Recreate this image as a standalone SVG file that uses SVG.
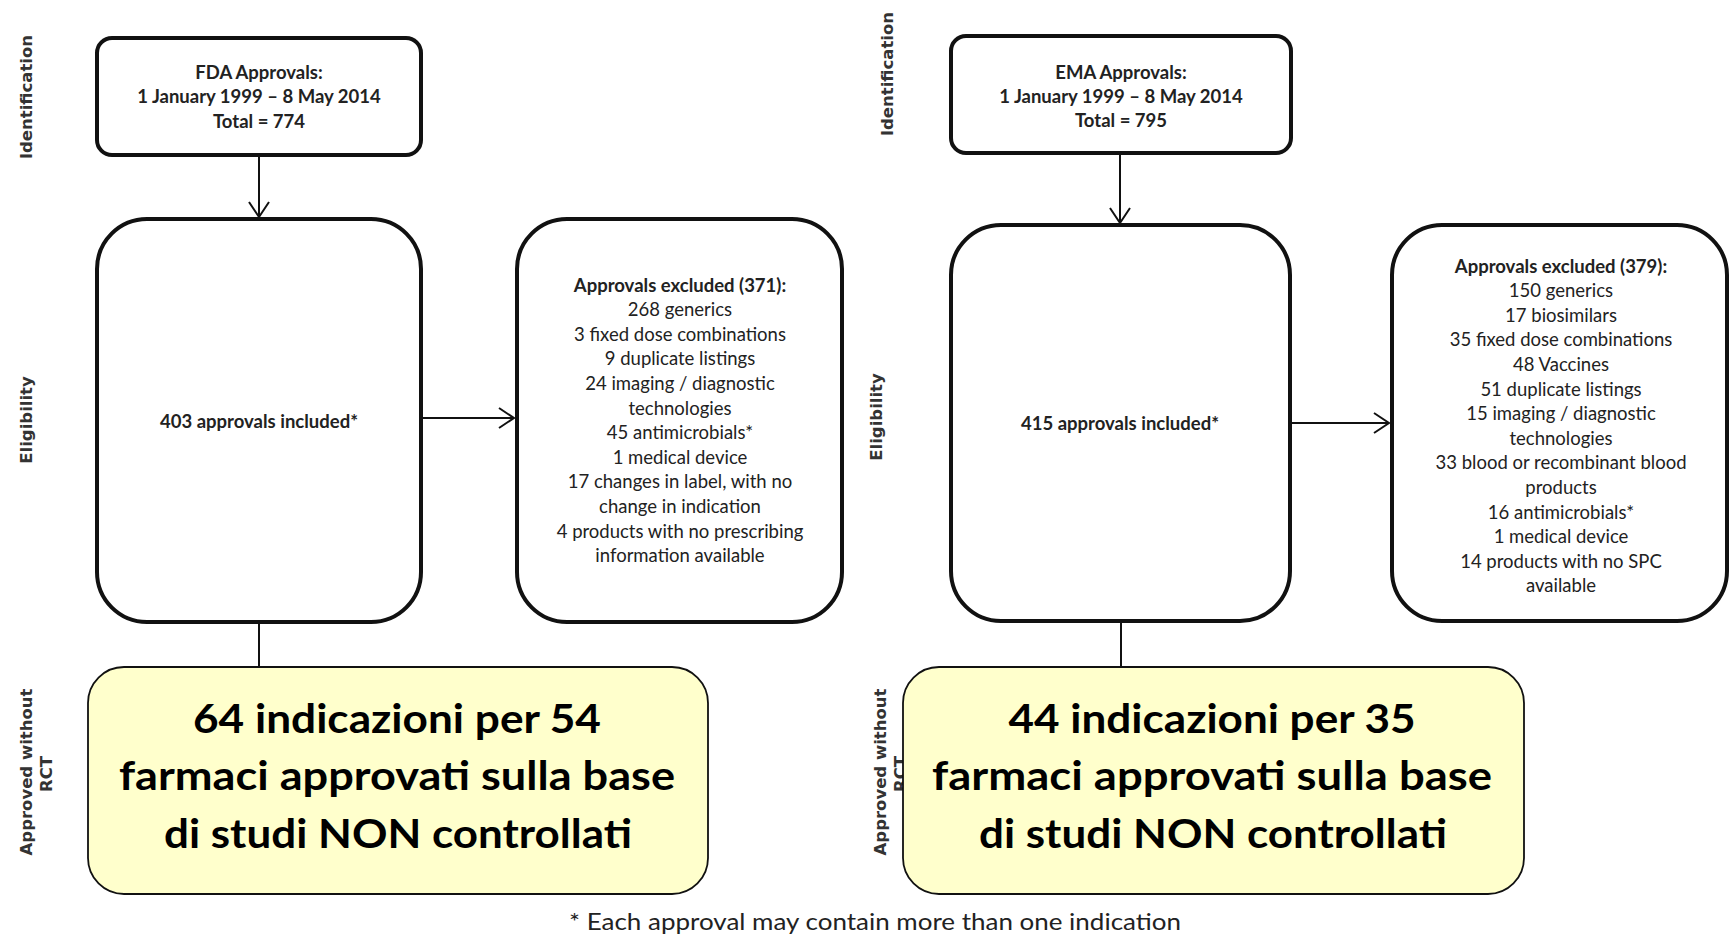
<svg xmlns="http://www.w3.org/2000/svg" width="1731" height="936" viewBox="0 0 1731 936">
<defs>
<style>
.box{fill:#fff;stroke:#111;stroke-width:4}
.yel{fill:#FFFFCC;stroke:#111;stroke-width:1.8}
.t{font-family:Lato,"Liberation Sans",sans-serif;fill:#222;text-anchor:middle}
.b{font-weight:bold}
.s{font-size:18.5px}
.big{font-family:Lato,"Liberation Sans",sans-serif;font-size:40px;font-weight:bold;fill:#000;text-anchor:middle}
.lab{font-family:"DejaVu Sans",sans-serif;font-weight:bold;font-size:16.5px;fill:#333;text-anchor:middle}
.con{stroke:#111;stroke-width:2;fill:none}
</style>
<marker id="arr" markerUnits="userSpaceOnUse" viewBox="-17 -12 19 24" markerWidth="19" markerHeight="24" refX="0" refY="0" orient="auto">
<path d="M-15,-10 L0,0 L-15,10" fill="none" stroke="#111" stroke-width="2"/>
</marker>
</defs>
<rect width="1731" height="936" fill="#fff"/>

<g id="labels">
<text class="lab" transform="translate(32,97) rotate(-90)">Identification</text>
<text class="lab" transform="translate(32,420) rotate(-90)">Eligibility</text>
<text class="lab" transform="translate(32,772) rotate(-90)">Approved without</text>
<text class="lab" transform="translate(52,774) rotate(-90)">RCT</text>
<text class="lab" transform="translate(893,74) rotate(-90)">Identification</text>
<text class="lab" transform="translate(882,417) rotate(-90)">Eligibility</text>
<text class="lab" transform="translate(886,772) rotate(-90)">Approved without</text>
<text class="lab" transform="translate(906,774) rotate(-90)">RCT</text>
</g>

<g id="connectors">
<line class="con" x1="259" y1="155" x2="259" y2="217" marker-end="url(#arr)"/>
<line class="con" x1="423" y1="418" x2="514" y2="418" marker-end="url(#arr)"/>
<line class="con" x1="259" y1="624" x2="259" y2="667"/>
<line class="con" x1="1120" y1="155" x2="1120" y2="223" marker-end="url(#arr)"/>
<line class="con" x1="1292" y1="423" x2="1389" y2="423" marker-end="url(#arr)"/>
<line class="con" x1="1121" y1="623" x2="1121" y2="667"/>
</g>

<g id="fda-approvals">
<rect class="box" x="97" y="38" width="324" height="117" rx="15"/>
<text class="t b s" x="259" y="79">FDA Approvals:</text>
<text class="t b s" x="259" y="103">1 January 1999 – 8 May 2014</text>
<text class="t b s" x="259" y="128">Total = 774</text>
</g>

<g id="fda-included">
<rect class="box" x="97" y="219" width="324" height="403" rx="50"/>
<text class="t b s" x="259" y="428">403 approvals included*</text>
</g>

<g id="fda-excluded">
<rect class="box" x="517" y="219" width="325" height="403" rx="50"/>
<text class="t b s" x="680" y="291.5">Approvals excluded (371):</text>
<text class="t s" x="680" y="316.1">268 generics</text>
<text class="t s" x="680" y="340.7">3 fixed dose combinations</text>
<text class="t s" x="680" y="365.3">9 duplicate listings</text>
<text class="t s" x="680" y="389.9">24 imaging / diagnostic</text>
<text class="t s" x="680" y="414.5">technologies</text>
<text class="t s" x="680" y="439.1">45 antimicrobials*</text>
<text class="t s" x="680" y="463.7">1 medical device</text>
<text class="t s" x="680" y="488.3">17 changes in label, with no</text>
<text class="t s" x="680" y="512.9">change in indication</text>
<text class="t s" x="680" y="537.5">4 products with no prescribing</text>
<text class="t s" x="680" y="562.1">information available</text>
</g>

<g id="ema-approvals">
<rect class="box" x="951" y="36" width="340" height="117" rx="15"/>
<text class="t b s" x="1121" y="79">EMA Approvals:</text>
<text class="t b s" x="1121" y="103">1 January 1999 – 8 May 2014</text>
<text class="t b s" x="1121" y="127">Total = 795</text>
</g>

<g id="ema-included">
<rect class="box" x="951" y="225" width="339" height="396" rx="50"/>
<text class="t b s" x="1120" y="430">415 approvals included*</text>
</g>

<g id="ema-excluded">
<rect class="box" x="1392" y="225" width="335" height="396" rx="50"/>
<text class="t b s" x="1561" y="272.5">Approvals excluded (379):</text>
<text class="t s" x="1561" y="297.1">150 generics</text>
<text class="t s" x="1561" y="321.7">17 biosimilars</text>
<text class="t s" x="1561" y="346.3">35 fixed dose combinations</text>
<text class="t s" x="1561" y="370.9">48 Vaccines</text>
<text class="t s" x="1561" y="395.5">51 duplicate listings</text>
<text class="t s" x="1561" y="420.1">15 imaging / diagnostic</text>
<text class="t s" x="1561" y="444.7">technologies</text>
<text class="t s" x="1561" y="469.3">33 blood or recombinant blood</text>
<text class="t s" x="1561" y="493.9">products</text>
<text class="t s" x="1561" y="518.5">16 antimicrobials*</text>
<text class="t s" x="1561" y="543.1">1 medical device</text>
<text class="t s" x="1561" y="567.7">14 products with no SPC</text>
<text class="t s" x="1561" y="592.3">available</text>
</g>

<g id="fda-rct">
<rect class="yel" x="88" y="667" width="620" height="227" rx="36"/>
<text class="big" x="397" y="733" textLength="408" lengthAdjust="spacingAndGlyphs">64 indicazioni per 54</text>
<text class="big" x="397" y="790" textLength="556" lengthAdjust="spacingAndGlyphs">farmaci approvati sulla base</text>
<text class="big" x="398" y="848" textLength="468" lengthAdjust="spacingAndGlyphs">di studi NON controllati</text>
</g>

<g id="ema-rct">
<rect class="yel" x="903" y="667" width="621" height="227" rx="36"/>
<text class="big" x="1212" y="733" textLength="407" lengthAdjust="spacingAndGlyphs">44 indicazioni per 35</text>
<text class="big" x="1212" y="790" textLength="560" lengthAdjust="spacingAndGlyphs">farmaci approvati sulla base</text>
<text class="big" x="1213" y="848" textLength="468" lengthAdjust="spacingAndGlyphs">di studi NON controllati</text>
</g>

<g id="footnote">
<text class="t" x="875" y="930" font-size="23" textLength="612" lengthAdjust="spacingAndGlyphs">* Each approval may contain more than one indication</text>
</g>
</svg>
